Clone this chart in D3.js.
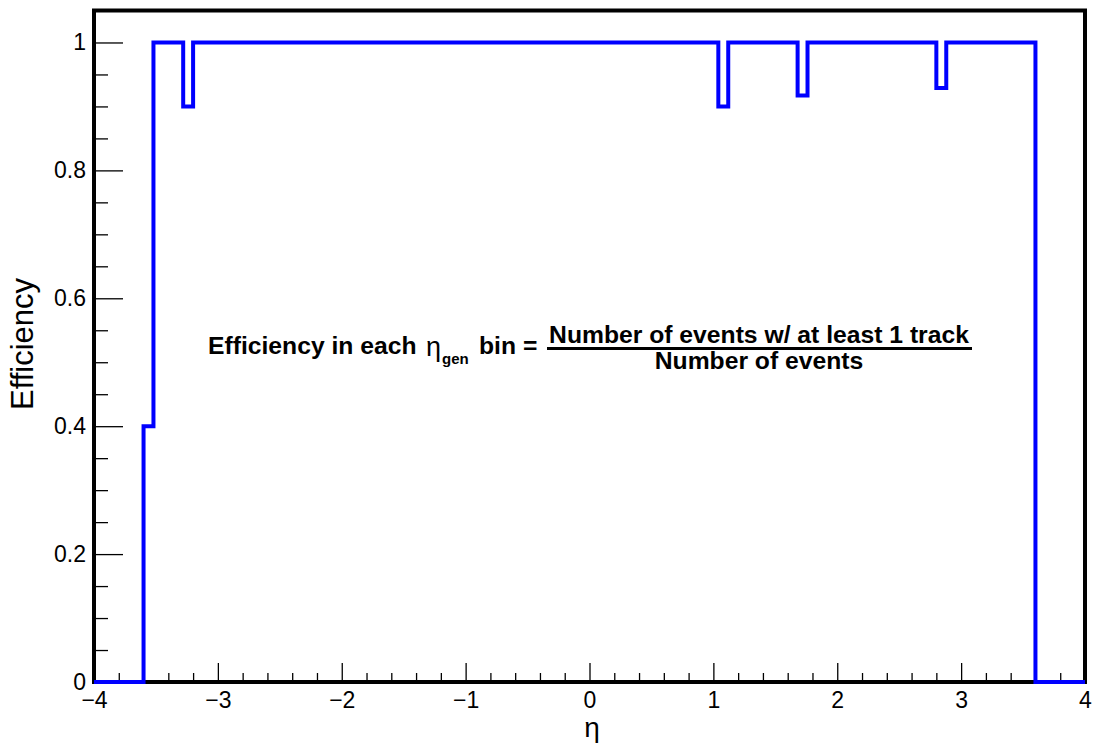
<!DOCTYPE html>
<html>
<head>
<meta charset="utf-8">
<script src="https://cdn.jsdelivr.net/npm/d3@7"></script>
<style>
  body { margin: 0; background: #fff; }
  text { font-family: "Liberation Sans", Arial, Helvetica, sans-serif; }
</style>
</head>
<body>
<div id="chart"></div>
<script>
// histogram binning: 100 bins from -4 to 4
var xMin = -4;
var xMax = 4;
var binWidth = 0.08;

// efficiency per eta bin
var efficiency = [
  0, 0, 0, 0, 0, 0.4, 1, 1, 1, 0.9,
  1, 1, 1, 1, 1, 1, 1, 1, 1, 1,
  1, 1, 1, 1, 1, 1, 1, 1, 1, 1,
  1, 1, 1, 1, 1, 1, 1, 1, 1, 1,
  1, 1, 1, 1, 1, 1, 1, 1, 1, 1,
  1, 1, 1, 1, 1, 1, 1, 1, 1, 1,
  1, 1, 1, 0.9, 1, 1, 1, 1, 1, 1,
  1, 0.917, 1, 1, 1, 1, 1, 1, 1, 1,
  1, 1, 1, 1, 1, 0.929, 1, 1, 1, 1,
  1, 1, 1, 1, 1, 0, 0, 0, 0, 0
];

// ticks
var xMajorTicks = [-4, -3, -2, -1, 0, 1, 2, 3, 4];
var xMinorTicks = [-3.8, -3.6, -3.4, -3.2, -2.8, -2.6, -2.4, -2.2, -1.8, -1.6, -1.4, -1.2,
  -0.8, -0.6, -0.4, -0.2, 0.2, 0.4, 0.6, 0.8, 1.2, 1.4, 1.6, 1.8, 2.2, 2.4, 2.6, 2.8,
  3.2, 3.4, 3.6, 3.8];
var yMajorTicks = [0, 0.2, 0.4, 0.6, 0.8, 1];
var yTickLabels = ["0", "0.2", "0.4", "0.6", "0.8", "1"];
var yMinorTicks = [0.05, 0.1, 0.15, 0.25, 0.3, 0.35, 0.45, 0.5, 0.55, 0.65, 0.7, 0.75,
  0.85, 0.9, 0.95];

var w = 1093;
var h = 743;

// frame edges
var frameLeft = 94;
var frameRight = 1085;
var frameTop = 10.5;
var frameBottom = 682;

var svg = d3
  .select("#chart")
  .append("svg")
  .attr("width", w)
  .attr("height", h);

var xScale = d3.scaleLinear().domain([xMin, xMax]).range([frameLeft, frameRight]);
var yScale = d3.scaleLinear().domain([0, 1.05]).range([frameBottom, frameTop]);

// y axis, ticks pointing inside the frame
var yAxis = d3
  .axisLeft(yScale)
  .tickValues(yMajorTicks)
  .tickSize(-29)
  .tickPadding(8)
  .tickFormat(function (d, i) { return yTickLabels[i]; });
var yMinor = d3.axisLeft(yScale).tickValues(yMinorTicks).tickSize(-14).tickFormat("");

var xAxis = d3
  .axisBottom(xScale)
  .tickValues(xMajorTicks)
  .tickSize(-19)
  .tickPadding(10)
  .tickFormat(d3.format("d"));
var xMinor = d3.axisBottom(xScale).tickValues(xMinorTicks).tickSize(-9).tickFormat("");

function styleAxis(g) {
  g.select(".domain").remove();
  g.selectAll(".tick line").attr("stroke", "#000").attr("stroke-width", 1.3);
  g.selectAll(".tick text")
    .attr("fill", "#000")
    .style("font-size", "23px")
    .style("font-family", "'Liberation Sans', Arial, sans-serif");
}

svg.append("g").attr("transform", "translate(" + frameLeft + ",0)").call(yAxis).call(styleAxis);
svg.append("g").attr("transform", "translate(" + frameLeft + ",0)").call(yMinor).call(styleAxis);
svg.append("g").attr("transform", "translate(0," + frameBottom + ")").call(xAxis).call(styleAxis);
svg.append("g").attr("transform", "translate(0," + frameBottom + ")").call(xMinor).call(styleAxis);

// frame
svg
  .append("rect")
  .attr("x", frameLeft)
  .attr("y", frameTop)
  .attr("width", frameRight - frameLeft)
  .attr("height", frameBottom - frameTop)
  .attr("fill", "none")
  .attr("stroke", "#000")
  .attr("stroke-width", 4);

// histogram as a step line
var points = efficiency.map(function (v, i) {
  return [xMin + i * binWidth, v];
});
points.push([xMax, efficiency[efficiency.length - 1]]);

var line = d3
  .line()
  .x(function (d) { return xScale(d[0]); })
  .y(function (d) { return yScale(d[1]); })
  .curve(d3.curveStepAfter);

svg
  .append("path")
  .datum(points)
  .attr("d", line)
  .attr("fill", "none")
  .attr("stroke", "#0000ff")
  .attr("stroke-width", 4);

// axis titles
svg
  .append("text")
  .attr("transform", "translate(33,344) rotate(-90)")
  .attr("text-anchor", "middle")
  .style("font-size", "31px")
  .text("Efficiency");

svg
  .append("text")
  .attr("x", 592)
  .attr("y", 737)
  .attr("text-anchor", "middle")
  .style("font-size", "28px")
  .text("η");

// formula annotation
var note = svg.append("g").style("font-weight", "bold").style("font-size", "24.7px");
note.append("text").attr("x", 208).attr("y", 354).text("Efficiency in each");
note
  .append("text")
  .attr("x", 426)
  .attr("y", 356)
  .style("font-weight", "normal")
  .style("font-size", "27px")
  .text("η");
note.append("text").attr("x", 442).attr("y", 364).style("font-size", "15px").text("gen");
note.append("text").attr("x", 479).attr("y", 354).text("bin =");
note
  .append("text")
  .attr("x", 759)
  .attr("y", 343)
  .attr("text-anchor", "middle")
  .text("Number of events w/ at least 1 track");
note
  .append("line")
  .attr("x1", 547)
  .attr("x2", 972)
  .attr("y1", 348.5)
  .attr("y2", 348.5)
  .attr("stroke", "#000")
  .attr("stroke-width", 3);
note
  .append("text")
  .attr("x", 759)
  .attr("y", 369)
  .attr("text-anchor", "middle")
  .text("Number of events");
</script>
</body>
</html>
